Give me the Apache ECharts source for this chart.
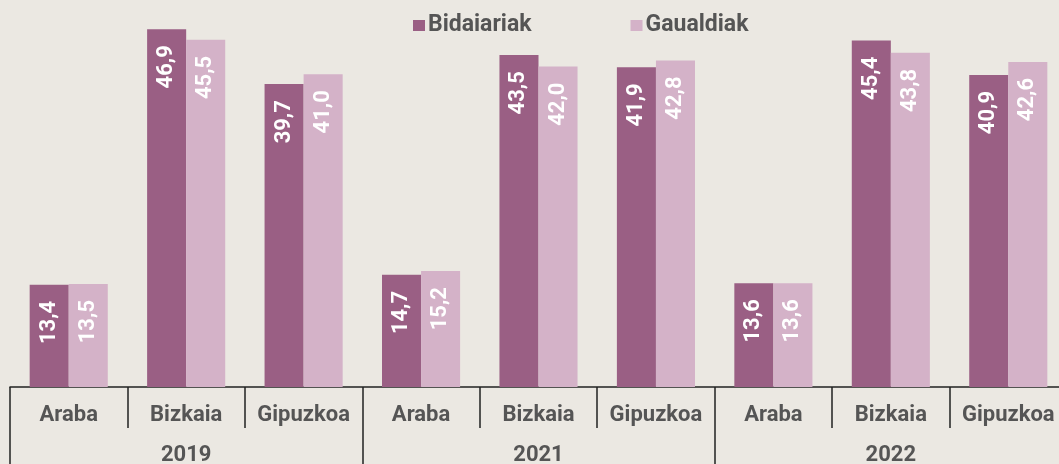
<!DOCTYPE html>
<html>
<head>
<meta charset="utf-8">
<script src="https://cdn.jsdelivr.net/npm/echarts@6/dist/echarts.min.js"></script>
<style>
  html, body { margin: 0; padding: 0; background: #ebe8e2; }
  #chart { width: 1059px; height: 464px; }
</style>
</head>
<body>
<div id="chart"></div>
<script>
// Provinces repeated for each year, and the years grouping them
const provinces = ['Araba', 'Bizkaia', 'Gipuzkoa', 'Araba', 'Bizkaia', 'Gipuzkoa', 'Araba', 'Bizkaia', 'Gipuzkoa'];
const years = ['2019', '2021', '2022'];
const seriesNames = ['Bidaiariak', 'Gaualdiak'];
const bidaiariak = [13.4, 46.9, 39.7, 14.7, 43.5, 41.9, 13.6, 45.4, 40.9];
const gaualdiak = [13.5, 45.5, 41.0, 15.2, 42.0, 42.8, 13.6, 43.8, 42.6];

const FONT = 'Roboto';
const TEXT = '#555555';
const LINE = '#222222';
const DARK = '#9a5f84';
const LIGHT = '#d4b2c8';

const fmt = v => v.toFixed(1).replace('.', ',');

const chart = echarts.init(document.getElementById('chart'));

// Vertical value label, reading upwards, anchored a little below the bar top
const barLabel = {
  show: true,
  position: ['50%', 16],
  rotate: 90,
  align: 'right',
  verticalAlign: 'middle',
  color: '#ffffff',
  fontFamily: FONT,
  fontWeight: 'bold',
  fontSize: 22,
  formatter: p => fmt(p.value)
};

chart.setOption({
  backgroundColor: '#ebe8e2',
  animation: false,
  legend: {
    data: seriesNames,
    left: 413,
    top: 14,
    padding: 0,
    itemWidth: 12,
    itemHeight: 11,
    itemGap: 99,
    icon: 'rect',
    textStyle: { fontFamily: FONT, fontWeight: 'bold', fontSize: 23, color: TEXT, padding: [0, 0, 0, -2] }
  },
  // Two stacked category axes: provinces on the first row, years grouping them below
  grid: { left: 10, right: -8, top: 5.5, bottom: 77, containLabel: false, outerBoundsMode: 'none' },
  xAxis: [
    {
      type: 'category',
      data: provinces,
      position: 'bottom',
      axisLine: { show: true, lineStyle: { color: LINE, width: 1.5 } },
      axisTick: { show: true, interval: 0, length: 41, lineStyle: { color: LINE, width: 1.5 } },
      axisLabel: { interval: 0, margin: 17, fontFamily: FONT, fontWeight: 'bold', fontSize: 22, color: TEXT }
    },
    {
      type: 'category',
      data: years,
      position: 'bottom',
      axisLine: { show: false },
      axisTick: { show: true, interval: 0, length: 77, lineStyle: { color: LINE, width: 1.5 } },
      axisLabel: { interval: 0, margin: 57, fontFamily: FONT, fontWeight: 'bold', fontSize: 22, color: TEXT }
    }
  ],
  yAxis: {
    type: 'value',
    min: 0,
    max: 50,
    show: false,
    splitLine: { show: false }
  },
  series: [
    {
      name: seriesNames[0],
      type: 'bar',
      xAxisIndex: 0,
      data: bidaiariak,
      barGap: '0%',
      barCategoryGap: '33.5%',
      itemStyle: { color: DARK },
      label: barLabel
    },
    {
      name: seriesNames[1],
      type: 'bar',
      xAxisIndex: 0,
      data: gaualdiak,
      barGap: '0%',
      barCategoryGap: '33.5%',
      itemStyle: { color: LIGHT },
      label: barLabel
    }
  ]
});
</script>
</body>
</html>
